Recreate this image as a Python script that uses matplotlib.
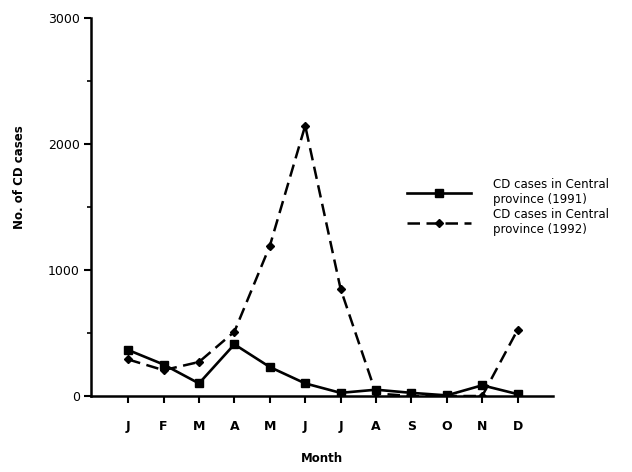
import matplotlib.pyplot as plt
from matplotlib.ticker import MultipleLocator

# Monthly CD cases, Central province
months = ["J", "F", "M", "A", "M", "J", "J", "A", "S", "O", "N", "D"]
cases_1991 = [365, 250, 100, 410, 230, 100, 25, 50, 25, 5, 85, 15]
cases_1992 = [290, 205, 270, 510, 1190, 2145, 850, 20, 0, 0, 0, 525]
label_1991 = "CD cases in Central\nprovince (1991)"
label_1992 = "CD cases in Central\nprovince (1992)"

plt.rcParams['font.family'] = ['DejaVu Sans']

fig = plt.figure(figsize=(6.32, 4.72), dpi=100)
ax = fig.add_axes([0.144, 0.161, 0.731, 0.801])

x = range(1, len(months) + 1)

# 1992 first so the solid 1991 line sits over it
ax.plot(x, cases_1992, color="black", lw=1.8, dashes=(5, 2.6),
        marker="D", markersize=4.5, label=label_1992, zorder=2)
ax.plot(x, cases_1991, color="black", lw=1.9, marker="s",
        markersize=6, label=label_1991, zorder=3)

ax.set_xlim(-0.05, 13)
ax.set_ylim(0, 3000)
ax.set_xticks(list(x))
ax.set_xticklabels(months)
ax.yaxis.set_major_locator(MultipleLocator(1000))
ax.yaxis.set_minor_locator(MultipleLocator(500))

for side in ("top", "right"):
    ax.spines[side].set_visible(False)
for side in ("left", "bottom"):
    ax.spines[side].set_linewidth(1.8)

ax.tick_params(axis="x", direction="out", length=5, width=1.5,
               labelsize=9, pad=12)
ax.tick_params(axis="y", which="major", direction="out", length=5,
               width=1.5, labelsize=9, pad=3)
ax.tick_params(axis="y", which="minor", direction="out", length=3, width=1.2)
for lbl in ax.get_xticklabels():
    lbl.set_fontweight("bold")

ax.set_xlabel("Month", fontsize=8.5, fontweight="bold", labelpad=14)
ax.set_ylabel("No. of CD cases", fontsize=8.5, fontweight="bold")
ax.yaxis.set_label_coords(-0.14, 0.58)

# legend order: 1991 on top
handles, labels = ax.get_legend_handles_labels()
ax.legend(handles[::-1], labels[::-1], loc="center left",
          bbox_to_anchor=(0.66, 0.50), frameon=False, fontsize=8.5,
          handlelength=5.5, handletextpad=1.8, labelspacing=0.15)

fig.savefig("out.png", dpi=100)
